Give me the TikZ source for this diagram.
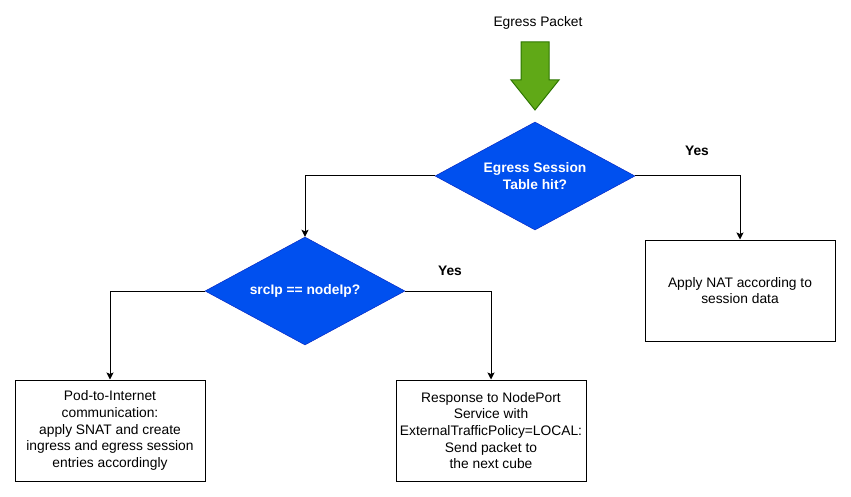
\documentclass[tikz,border=0pt]{standalone}
\usepackage{fontspec}
\setmainfont{Liberation Sans}
\usetikzlibrary{shapes.geometric,arrows.meta}
\definecolor{decblue}{HTML}{0050EF}
\definecolor{decedge}{HTML}{001DBC}
\definecolor{pktgreen}{HTML}{60A917}
\definecolor{pktedge}{HTML}{2D7600}
\begin{document}
\begin{tikzpicture}[x=1pt,y=-1pt,
  txt/.style={font=\fontsize{13.8}{16.6}\selectfont,align=center},
  decision/.style={diamond,aspect=1.85,draw=decedge,fill=decblue,text=white,inner sep=0pt,
    minimum width=200pt,minimum height=108pt,align=center,
    font=\fontsize{13.8}{16.6}\selectfont\bfseries},
  action/.style={draw,line width=1pt,minimum width=190pt,minimum height=101pt,inner sep=0pt,txt},
  flow/.style={line width=1pt,-{Stealth[length=7pt,width=7pt,inset=1.5pt]}}]
\useasboundingbox (0,0) rectangle (851,497);
\node[txt] (pkt) at (538,23) {Egress Packet};
\filldraw[fill=pktgreen,draw=pktedge,line width=1pt] (521,42) -- (549,42) -- (549,80) -- (559,80)
  -- (535,110) coordinate (tip) -- (511,80) -- (521,80) -- cycle;
\node[decision] (hit) at (535,176) {Egress Session\\Table hit?};
\node[decision] (src) at (305,291) {srcIp == nodeIp?};
\node[action] (nat) at (740,290.5) {Apply NAT according to\\session data};
\node[action] (pod) at (110,430.5) {Pod-to-Internet\\communication:\\apply SNAT and create\\ingress and egress session\\entries accordingly};
\node[action] (resp) at (491,430.5) {Response to NodePort\\Service with\\ExternalTrafficPolicy=LOCAL:\\Send packet to\\the next cube};
\node[txt,font=\fontsize{13.8}{16.6}\selectfont\bfseries] (yes1) at (697,151) {Yes};
\node[txt,font=\fontsize{13.8}{16.6}\selectfont\bfseries] (yes2) at (450,271) {Yes};
\draw[flow] (hit.east) -| (nat.north);
\draw[flow] (hit.west) -| (src.north);
\draw[flow] (src.east) -| (resp.north);
\draw[flow] (src.west) -| (pod.north);
\end{tikzpicture}
\end{document}
